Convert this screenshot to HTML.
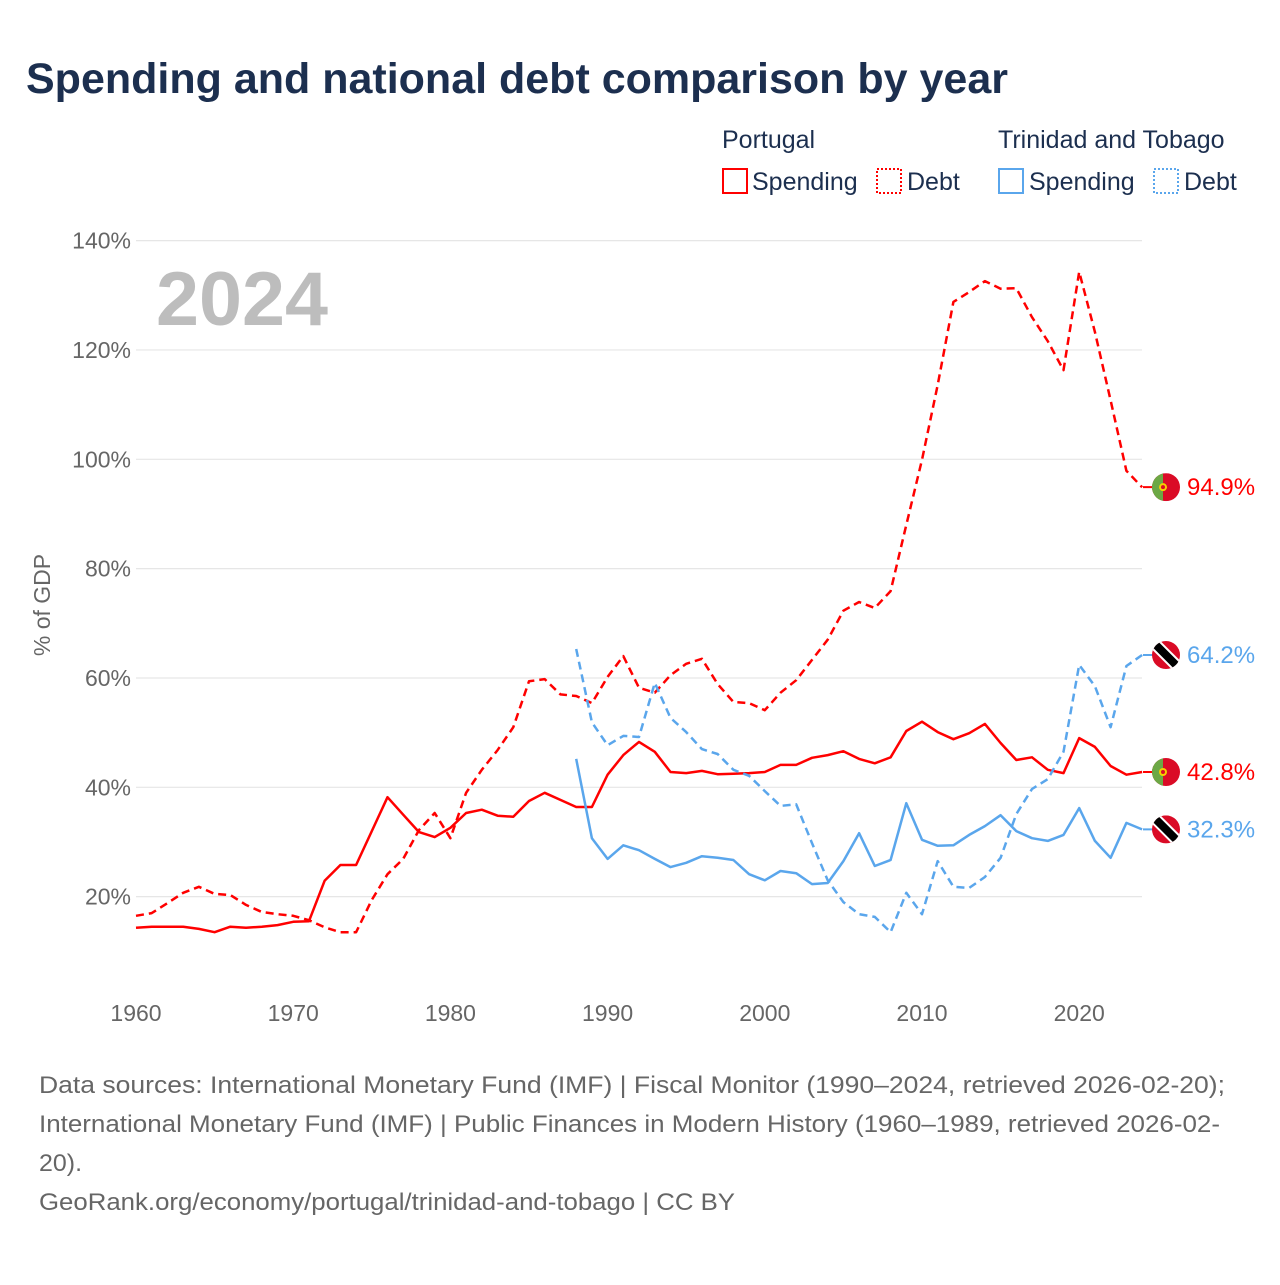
<!DOCTYPE html>
<html><head><meta charset="utf-8"><style>
body{margin:0;background:#fff;width:1280px;height:1280px;overflow:hidden;font-family:"Liberation Sans",sans-serif}
</style></head><body>
<svg width="1280" height="1280" viewBox="0 0 1280 1280" xmlns="http://www.w3.org/2000/svg" style="font-family:'Liberation Sans',sans-serif">
<text x="26" y="93" font-size="43" font-weight="bold" fill="#1c2f4f">Spending and national debt comparison by year</text>
<g font-size="25" fill="#1c2f4f">
<text x="722" y="148">Portugal</text>
<text x="998" y="148">Trinidad and Tobago</text>
<g><rect x="723" y="169" width="24" height="24" fill="none" stroke="#f00" stroke-width="2"/><text x="752" y="190">Spending</text></g>
<g><rect x="877" y="169" width="24" height="24" fill="none" stroke="#f00" stroke-width="2" stroke-dasharray="2,2"/><text x="907" y="190">Debt</text></g>
<g><rect x="999" y="169" width="24" height="24" fill="none" stroke="#5aa6ec" stroke-width="2"/><text x="1029" y="190">Spending</text></g>
<g><rect x="1154" y="169" width="24" height="24" fill="none" stroke="#5aa6ec" stroke-width="2" stroke-dasharray="2,2"/><text x="1184" y="190">Debt</text></g>
</g>
<text x="0" y="0" transform="translate(50,605) rotate(-90)" text-anchor="middle" font-size="23" fill="#666">% of GDP</text>
<text x="156" y="325" font-size="76" font-weight="bold" fill="#bdbdbd" textLength="172" lengthAdjust="spacingAndGlyphs">2024</text>
<g id="grid"></g><g id="xt"></g><g id="lines"></g><g id="ends"></g>
<g font-size="24" fill="#666">
<text x="39" y="1093" textLength="1186" lengthAdjust="spacingAndGlyphs">Data sources: International Monetary Fund (IMF) | Fiscal Monitor (1990–2024, retrieved 2026-02-20);</text>
<text x="39" y="1132" textLength="1181" lengthAdjust="spacingAndGlyphs">International Monetary Fund (IMF) | Public Finances in Modern History (1960–1989, retrieved 2026-02-</text>
<text x="39" y="1171" textLength="43" lengthAdjust="spacingAndGlyphs">20).</text>
<text x="39" y="1210" textLength="696" lengthAdjust="spacingAndGlyphs">GeoRank.org/economy/portugal/trinidad-and-tobago | CC BY</text>
</g>
</svg>
<script>
const yTicks=[20,40,60,80,100,120,140];
const xTicks=[1960,1970,1980,1990,2000,2010,2020];
const ptSpendYears0=1960;
const ptSpending=[14.3,14.5,14.5,14.5,14.1,13.5,14.5,14.3,14.5,14.8,15.4,15.5,22.9,25.8,25.8,32,38.2,35,31.8,30.9,32.6,35.3,35.9,34.8,34.6,37.5,39,37.7,36.4,36.4,42.3,45.9,48.3,46.5,42.8,42.6,43,42.4,42.5,42.6,42.8,44.1,44.1,45.4,45.9,46.6,45.2,44.4,45.5,50.3,52,50.1,48.8,49.9,51.6,48.1,45,45.5,43.2,42.6,49,47.4,43.9,42.3,42.8];
const ptDebt=[16.5,17,18.8,20.7,21.8,20.5,20.3,18.5,17.2,16.8,16.5,15.7,14.4,13.5,13.5,19.4,24.1,26.9,32.2,35.3,30.7,39,43.2,46.8,51,59.4,59.8,57,56.7,55.4,60.2,64,58.2,57.3,60.5,62.6,63.5,58.9,55.6,55.4,54.1,57.3,59.6,63.3,67,72.3,73.9,72.8,75.9,88,99.9,113.6,128.8,130.6,132.6,131.2,131.3,126,121.6,116.3,134.3,123.3,110.8,97.9,94.9];
const ttStartYear=1988;
const ttSpending=[45.2,30.7,26.9,29.4,28.5,26.9,25.4,26.2,27.4,27.1,26.7,24.1,23,24.7,24.3,22.3,22.5,26.5,31.6,25.6,26.7,37.1,30.4,29.3,29.4,31.3,32.9,34.9,32,30.7,30.2,31.3,36.2,30.2,27.1,33.5,32.3];
const ttDebt=[65.3,51.9,47.7,49.4,49.2,59.1,52.7,50.1,47,46.1,43.2,42.1,39.3,36.6,36.9,29.8,23,19,16.8,16.3,13.5,20.7,16.8,26.5,21.8,21.6,23.6,27.1,35.1,39.7,41.5,46.5,62.4,58.5,51,62.2,64.2];
const NS="http://www.w3.org/2000/svg";
const X=yr=>136+(yr-1960)*15.72;
const Y=v=>1006-v*5.467;
function mk(t,a,p){const e=document.createElementNS(NS,t);for(const k in a)e.setAttribute(k,a[k]);p.appendChild(e);return e;}
const grid=document.getElementById('grid');
yTicks.forEach(v=>{
 const l=mk('line',{x1:136,x2:1142,y1:Y(v),y2:Y(v),stroke:'#e6e6e6','stroke-width':1.2},grid);
 
 
 const t=mk('text',{x:131,y:Y(v)+8,'text-anchor':'end','font-size':23,fill:'#666'},grid);t.textContent=v+'%';
 
 
});
const xt=document.getElementById('xt');
xTicks.forEach(yr=>{
 const t=mk('text',{x:X(yr),y:1021,'text-anchor':'middle','font-size':23,fill:'#666'},xt);t.textContent=yr;
 
 
});
const lines=document.getElementById('lines');
function line(arr,start,color,dash,name){
 const d=arr.map((v,i)=>(i?'L':'M')+X(start+i).toFixed(1)+','+Y(v).toFixed(1)).join('');
 const p=mk('path',{d:d,fill:'none',stroke:color,'stroke-width':2.5,'stroke-linejoin':'round'},lines);
 if(dash)p.setAttribute('stroke-dasharray','8,5');
 
 
}
line(ptSpending,ptSpendYears0,'#ff0000',false,'portugal-spending-line');
line(ptDebt,ptSpendYears0,'#ff0000',true,'portugal-debt-line');
line(ttSpending,ttStartYear,'#5aa6ec',false,'tt-spending-line');
line(ttDebt,ttStartYear,'#5aa6ec',true,'tt-debt-line');
const ends=document.getElementById('ends');
function flag(v,kind,color,name){
 const cy=Y(v),cx=1166;
 const g=mk('g',{},ends);
 
 
 mk('line',{x1:1143,x2:cx,y1:cy,y2:cy,stroke:color,'stroke-width':2},g);
 const id='c'+name;
 const cp=mk('clipPath',{id:id},g);mk('circle',{cx:cx,cy:cy,r:14},cp);
 const f=mk('g',{'clip-path':'url(#'+id+')'},g);
 if(kind==='pt'){
  mk('rect',{x:cx-14,y:cy-14,width:28,height:28,fill:'#da0b26'},f);
  mk('rect',{x:cx-14,y:cy-14,width:11,height:28,fill:'#6ca845'},f);
  mk('circle',{cx:cx-3,cy:cy,r:4,fill:'#f5d000'},f);
  mk('circle',{cx:cx-3,cy:cy,r:2,fill:'#da0b26'},f);
 } else {
  mk('rect',{x:cx-14,y:cy-14,width:28,height:28,fill:'#da0b26'},f);
  mk('line',{x1:cx-16,y1:cy-16,x2:cx+16,y2:cy+16,stroke:'#fff','stroke-width':12},f);
  mk('line',{x1:cx-16,y1:cy-16,x2:cx+16,y2:cy+16,stroke:'#000','stroke-width':8},f);
 }
 const t=mk('text',{x:1187,y:cy+8,'font-size':24,fill:color},g);t.textContent=v.toFixed(1)+'%';
}
flag(ptDebt[ptDebt.length-1],'pt','#ff0000','portugal-debt-end-label');
flag(ttDebt[ttDebt.length-1],'tt','#5aa6ec','tt-debt-end-label');
flag(ptSpending[ptSpending.length-1],'pt','#ff0000','portugal-spending-end-label');
flag(ttSpending[ttSpending.length-1],'tt','#5aa6ec','tt-spending-end-label');
</script>
</body></html>
